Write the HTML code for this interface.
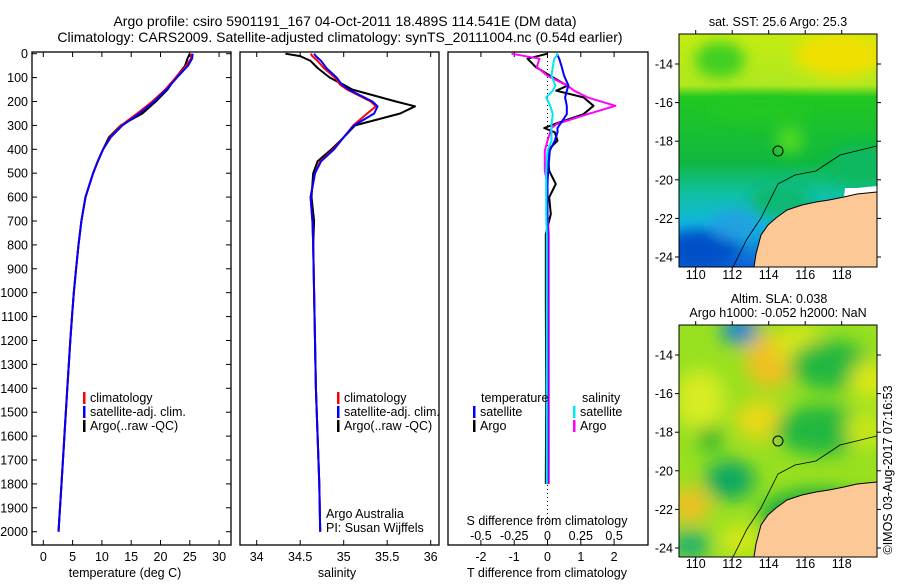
<!DOCTYPE html>
<html><head><meta charset="utf-8"><style>
html,body{margin:0;padding:0;background:#fff;}
svg text{font-family:"Liberation Sans",sans-serif;fill:#000;}
</style></head><body>
<svg id="fig" width="900" height="580" viewBox="0 0 900 580" xmlns="http://www.w3.org/2000/svg">
<defs>
<filter id="blur1" x="-20%" y="-20%" width="140%" height="140%"><feGaussianBlur stdDeviation="7"/></filter>
<filter id="blur2" x="-30%" y="-30%" width="160%" height="160%"><feGaussianBlur stdDeviation="9"/></filter>
<clipPath id="clipM1"><rect x="679" y="34" width="198" height="233"/></clipPath>
<clipPath id="clipM2"><rect x="679" y="325" width="198" height="232"/></clipPath>
<linearGradient id="sstGrad" x1="0" y1="0" x2="0" y2="1">
<stop offset="0" stop-color="#c4ec10"/><stop offset="0.22" stop-color="#b0e820"/>
<stop offset="0.27" stop-color="#22c820"/><stop offset="0.55" stop-color="#10b840"/>
<stop offset="0.68" stop-color="#10c0a0"/><stop offset="0.82" stop-color="#10b8e0"/>
<stop offset="1" stop-color="#1060d8"/></linearGradient>
</defs>
<text x="345" y="26" font-size="14" text-anchor="middle">Argo profile: csiro 5901191_167 04-Oct-2011 18.489S 114.541E (DM data)</text>
<text x="340" y="42" font-size="14" text-anchor="middle">Climatology: CARS2009. Satellite-adjusted climatology: synTS_20111004.nc (0.54d earlier)</text>

<!-- Map 1 SST -->
<g>
<g clip-path="url(#clipM1)">
<rect x="679" y="34" width="198" height="233" fill="url(#sstGrad)"/>
<g filter="url(#blur1)">
<ellipse cx="840" cy="55" rx="45" ry="22" fill="#f0e000"/>
<ellipse cx="720" cy="60" rx="25" ry="18" fill="#40d020"/>
<ellipse cx="760" cy="110" rx="50" ry="12" fill="#20c820"/>
<ellipse cx="790" cy="140" rx="14" ry="14" fill="#50d820"/>
<ellipse cx="860" cy="165" rx="30" ry="20" fill="#10b860"/>
<ellipse cx="780" cy="200" rx="30" ry="18" fill="#10b870"/>
<ellipse cx="700" cy="250" rx="40" ry="20" fill="#0050c8"/>
<ellipse cx="735" cy="225" rx="25" ry="15" fill="#20a0e0"/>
</g>
<polygon points="754,267 756,254 761,235 768,225 776,218 787,210 802,205 816,202 829,200 844,197 857,194 877,192 877,267" fill="#fcc996"/>
<polygon points="829,200 844,197 845,188 857,188 877,186 877,192 857,194" fill="#fff"/>
<polyline points="733,267 747,239 761,218 778,184 795,175 816,171 840,155 877,146" fill="none" stroke="#000" stroke-width="0.8"/>
<polyline points="754,267 756,254 761,235 768,225 776,218 787,210 802,205 816,202 829,200 844,197 857,194 877,192" fill="none" stroke="#000" stroke-width="1"/>
<circle cx="778" cy="151" r="5" fill="none" stroke="#000" stroke-width="1"/>
</g>
<rect x="679" y="34" width="198" height="233" fill="none" stroke="#000"/>
</g>
<text x="778" y="26" font-size="12.5" text-anchor="middle">sat. SST: 25.6 Argo: 25.3</text>

<!-- Map 2 SLA -->
<g>
<g clip-path="url(#clipM2)">
<rect x="679" y="325" width="198" height="232" fill="#98e020"/>
<g filter="url(#blur2)">
<ellipse cx="740" cy="330" rx="18" ry="14" fill="#1080e0"/>
<ellipse cx="770" cy="360" rx="25" ry="28" fill="#f0c020"/>
<ellipse cx="800" cy="345" rx="25" ry="20" fill="#d8e818"/>
<ellipse cx="830" cy="365" rx="40" ry="25" fill="#20b840"/>
<ellipse cx="870" cy="380" rx="20" ry="20" fill="#d8e818"/>
<ellipse cx="700" cy="400" rx="25" ry="30" fill="#d8ec20"/>
<ellipse cx="710" cy="438" rx="12" ry="12" fill="#10b030"/>
<ellipse cx="760" cy="420" rx="25" ry="20" fill="#e8d818"/>
<ellipse cx="820" cy="430" rx="45" ry="25" fill="#20b840"/>
<ellipse cx="730" cy="480" rx="25" ry="20" fill="#10a860"/>
<ellipse cx="690" cy="505" rx="20" ry="18" fill="#f0c020"/>
<ellipse cx="690" cy="545" rx="20" ry="15" fill="#20b070"/>
<ellipse cx="820" cy="515" rx="60" ry="25" fill="#10a840"/>
<ellipse cx="740" cy="540" rx="20" ry="15" fill="#d8e818"/>
<ellipse cx="865" cy="430" rx="20" ry="18" fill="#c8e818"/>
</g>
<polygon points="754,557 756,544 761,525 768,515 776,508 787,500 802,495 816,492 829,490 844,487 857,484 877,482 877,557" fill="#fcc996"/>
<polyline points="733,557 747,529 761,508 778,474 795,465 816,461 840,445 877,436" fill="none" stroke="#000" stroke-width="0.8"/>
<polyline points="754,557 756,544 761,525 768,515 776,508 787,500 802,495 816,492 829,490 844,487 857,484 877,482" fill="none" stroke="#000" stroke-width="1"/>
<circle cx="778" cy="441" r="5" fill="none" stroke="#000" stroke-width="1"/>
</g>
<rect x="679" y="325" width="198" height="232" fill="none" stroke="#000"/>
</g>
<text x="779" y="303" font-size="12.5" text-anchor="middle">Altim. SLA: 0.038</text>
<text x="778" y="317" font-size="12.5" text-anchor="middle">Argo h1000: -0.052 h2000: NaN</text>
<text transform="translate(892,470) rotate(-90)" font-size="12.5" text-anchor="middle">©IMOS 03-Aug-2017 07:16:53</text>

<g id="plots"></g>
</svg>
<script>
// ---- data (depth in dbar) ----
const tDepth = [0,20,50,100,150,200,250,300,350,400,450,500,600,700,800,900,1000,1100,1200,1400,1600,1800,2000];
const tClim  = [25.3,25.2,24.4,22.6,20.8,18.6,16.0,13.3,11.4,10.2,9.3,8.5,7.2,6.5,6.0,5.6,5.2,4.9,4.6,4.1,3.6,3.1,2.6];
const tSat   = [25.5,25.4,24.7,22.8,21.0,18.9,16.4,13.5,11.5,10.2,9.3,8.5,7.2,6.5,6.0,5.6,5.2,4.9,4.6,4.1,3.6,3.1,2.6];
const tArgo  = [25.0,24.6,24.2,22.6,21.2,19.2,16.9,13.2,11.2,10.2,9.3,8.5,7.2,6.5,6.0,5.6,5.2,4.9,4.6,4.1,3.6,3.1,2.6];
const sDepth = [0,10,30,60,100,130,150,200,220,250,300,350,400,450,500,600,700,800,1000,1200,1400,1600,1800,2000];
const sClim  = [34.62,34.64,34.70,34.77,34.90,34.96,35.04,35.31,35.37,35.27,35.11,35.00,34.88,34.73,34.67,34.62,34.64,34.65,34.66,34.67,34.68,34.70,34.72,34.73];
const sSat   = [34.66,34.68,34.74,34.80,34.92,34.98,35.06,35.33,35.39,35.35,35.12,35.00,34.89,34.74,34.67,34.62,34.64,34.65,34.66,34.67,34.68,34.70,34.72,34.73];
const sArgo  = [34.33,34.50,34.62,34.70,34.84,35.00,35.10,35.60,35.82,35.65,35.13,35.00,34.86,34.70,34.65,34.63,34.66,34.65,34.66,34.67,34.68,34.70,34.72,34.73];
const dDepth = [0,21,56,92,134,155,183,218,253,294,311,329,364,406,490,545,601,671,755,1033,1400,1800];
const dTArgo = [0,-0.6,-0.35,0.08,0.6,0.26,1.08,1.38,1.08,0.22,-0.1,0.22,0.3,0.0,0.05,0.25,0.05,0.1,-0.05,-0.05,-0.04,-0.05];
const dTSat  = [0.28,0.35,0.43,0.5,0.63,0.58,0.53,0.58,0.58,0.38,0.3,0.3,0.22,0.07,0.02,0.0,0.0,0.0,0.0,0.0,0.0,0.0];
const dSArgo = [-0.27,-0.06,-0.08,0.0,0.15,0.2,0.3,0.51,0.3,0.07,0.03,0.02,0.0,-0.02,-0.02,0.0,0.0,0.0,0.01,0.01,0.01,0.01];
const dSSat  = [0.08,0.05,0.04,0.03,0.06,0.04,-0.01,0.02,0.04,0.03,0.03,0.03,0.03,0.0,-0.01,-0.01,-0.01,-0.01,-0.005,-0.005,-0.005,-0.005];
const depthTicks = [0,100,200,300,400,500,600,700,800,900,1000,1100,1200,1300,1400,1500,1600,1700,1800,1900,2000];
const tTicks = [0,5,10,15,20,25,30];
const sTicks = [34,34.5,35,35.5,36];
const dTTicks = [-2,-1,0,1,2];
const dSTicks = ["-0.5","-0.25","0","0.25","0.5"];
const lonTicks = [110,112,114,116,118];
const latTicks = [-14,-16,-18,-20,-22,-24];

const NS="http://www.w3.org/2000/svg";
const root=document.getElementById('plots');
function mk(tag,attrs,parent){const e=document.createElementNS(NS,tag);for(const k in attrs)e.setAttribute(k,attrs[k]);(parent||root).appendChild(e);return e;}
const yD = d => 53.7 + d*0.239;
const xT = v => 43.3 + v*5.86;
const xS = v => 256.7 + (v-34)*87;
const xDT = v => 547.5 + v*33.3;
const xDS = v => 547.5 + v*133.2;
const xLon = v => 695.7 + (v-110)*18.25;
const yLat1 = v => 64 + (-14-v)*19.3;
const yLat2 = v => 355 + (-14-v)*19.3;

function panel(name,x0,x1){
  const r=mk('rect',{x:x0,y:52,width:x1-x0,height:493,fill:'none',stroke:'#000','stroke-width':1.3});
  
  
}
panel('temperature-panel',32,231);
panel('salinity-panel',240,439);
panel('difference-panel',448,648);

// depth axis
depthTicks.forEach(d=>{
  const y=yD(d);
  mk('line',{x1:32,x2:37,y1:y,y2:y,stroke:'#000'});
  mk('line',{x1:226,x2:231,y1:y,y2:y,stroke:'#000'});
  const t=mk('text',{x:28,y:y+4.5,'font-size':12.5,'text-anchor':'end'});
  t.textContent=d;
  
  
});
function xticks(vals,fx,labels,ly,nm){
  vals.forEach((v,i)=>{
    const x=fx(v);
    mk('line',{x1:x,x2:x,y1:545,y2:540,stroke:'#000'});
    mk('line',{x1:x,x2:x,y1:52,y2:57,stroke:'#000'});
    const t=mk('text',{x:x,y:ly,'font-size':12.5,'text-anchor':'middle'});
    t.textContent=labels?labels[i]:v;
    
    
  });
}
xticks(tTicks,xT,null,561,'temperature-tick-label');
xticks(sTicks,xS,null,561,'salinity-tick-label');
xticks(dTTicks,xDT,null,561,'t-diff-tick-label');
dSTicks.forEach(v=>{
  const t=mk('text',{x:xDS(parseFloat(v)),y:540,'font-size':12.5,'text-anchor':'middle'});
  t.textContent=v;
  
  
});
function label(txt,x,y,nm,anchor){
  const t=mk('text',{x:x,y:y,'font-size':12.5,'text-anchor':anchor||'middle'});
  t.textContent=txt;
  
  
}
label('temperature (deg C)',125,577,'temperature-axis-title');
label('salinity',337,577,'salinity-axis-title');
label('T difference from climatology',547,577,'t-diff-axis-title');
label('S difference from climatology',547,525,'s-diff-axis-title');

// zero dotted line
mk('line',{x1:547.5,x2:547.5,y1:53,y2:525,stroke:'#000','stroke-dasharray':'1,3'});

function line(xs,ds,fx,color,nm,w){
  const pts=xs.map((v,i)=>fx(v).toFixed(1)+','+yD(ds[i]).toFixed(1)).join(' ');
  const p=mk('polyline',{points:pts,fill:'none',stroke:color,'stroke-width':w||2,'stroke-linejoin':'round'});
  
  
}
line(tArgo,tDepth,xT,'#000','temperature-argo-line');
line(tClim,tDepth,xT,'#ff0000','temperature-climatology-line');
line(tSat,tDepth,xT,'#0000ff','temperature-satellite-line');
line(sArgo,sDepth,xS,'#000','salinity-argo-line');
line(sClim,sDepth,xS,'#ff0000','salinity-climatology-line');
line(sSat,sDepth,xS,'#0000ff','salinity-satellite-line');
line(dTArgo,dDepth,xDT,'#000','t-diff-argo-line');
line(dSArgo,dDepth,xDS,'#ff00ff','s-diff-argo-line');
line(dTSat,dDepth,xDT,'#0000ff','t-diff-satellite-line');
line(dSSat,dDepth,xDS,'#00e8f0','s-diff-satellite-line');

function legend(x,y,color,txt,nm){
  mk('rect',{x:x,y:y-10,width:2.5,height:12,fill:color});
  const t=mk('text',{x:x+7,y:y,'font-size':12.5});
  t.textContent=txt;
  
  
}
legend(83,402,'#ff0000','climatology','legend-climatology');
legend(83,416,'#0000ff','satellite-adj. clim.','legend-satellite-adj');
legend(83,430,'#000','Argo(..raw -QC)','legend-argo');
legend(337,402,'#ff0000','climatology','legend-climatology-sal');
legend(337,416,'#0000ff','satellite-adj. clim.','legend-satellite-adj-sal');
legend(337,430,'#000','Argo(..raw -QC)','legend-argo-sal');
label('Argo Australia',326,518,'argo-australia-label','start');
label('PI: Susan Wijffels',326,532,'pi-label','start');
label('temperature',481,402,'legend-temperature-header','start');
label('salinity',582,402,'legend-salinity-header','start');
legend(473,416,'#0000ff','satellite','legend-t-satellite');
legend(473,430,'#000','Argo','legend-t-argo');
legend(573,416,'#00e8f0','satellite','legend-s-satellite');
legend(573,430,'#ff00ff','Argo','legend-s-argo');

// map axes
[[yLat1,34,267,279],[yLat2,325,557,568]].forEach(([fy,top,bot,ly])=>{
  lonTicks.forEach(v=>{
    const x=xLon(v);
    mk('line',{x1:x,x2:x,y1:top,y2:top-4,stroke:'#000'});
    mk('line',{x1:x,x2:x,y1:bot,y2:bot+4,stroke:'#000'});
    const t=mk('text',{x:x,y:ly,'font-size':12.5,'text-anchor':'middle'});
    t.textContent=v;
    
    
  });
  latTicks.forEach(v=>{
    const y=fy(v);
    if(y<top||y>bot)return;
    mk('line',{x1:679,x2:675,y1:y,y2:y,stroke:'#000'});
    mk('line',{x1:877,x2:881,y1:y,y2:y,stroke:'#000'});
    const t=mk('text',{x:673,y:y+4.5,'font-size':12.5,'text-anchor':'end'});
    t.textContent=v;
    
    
  });
});
</script>
</body></html>
